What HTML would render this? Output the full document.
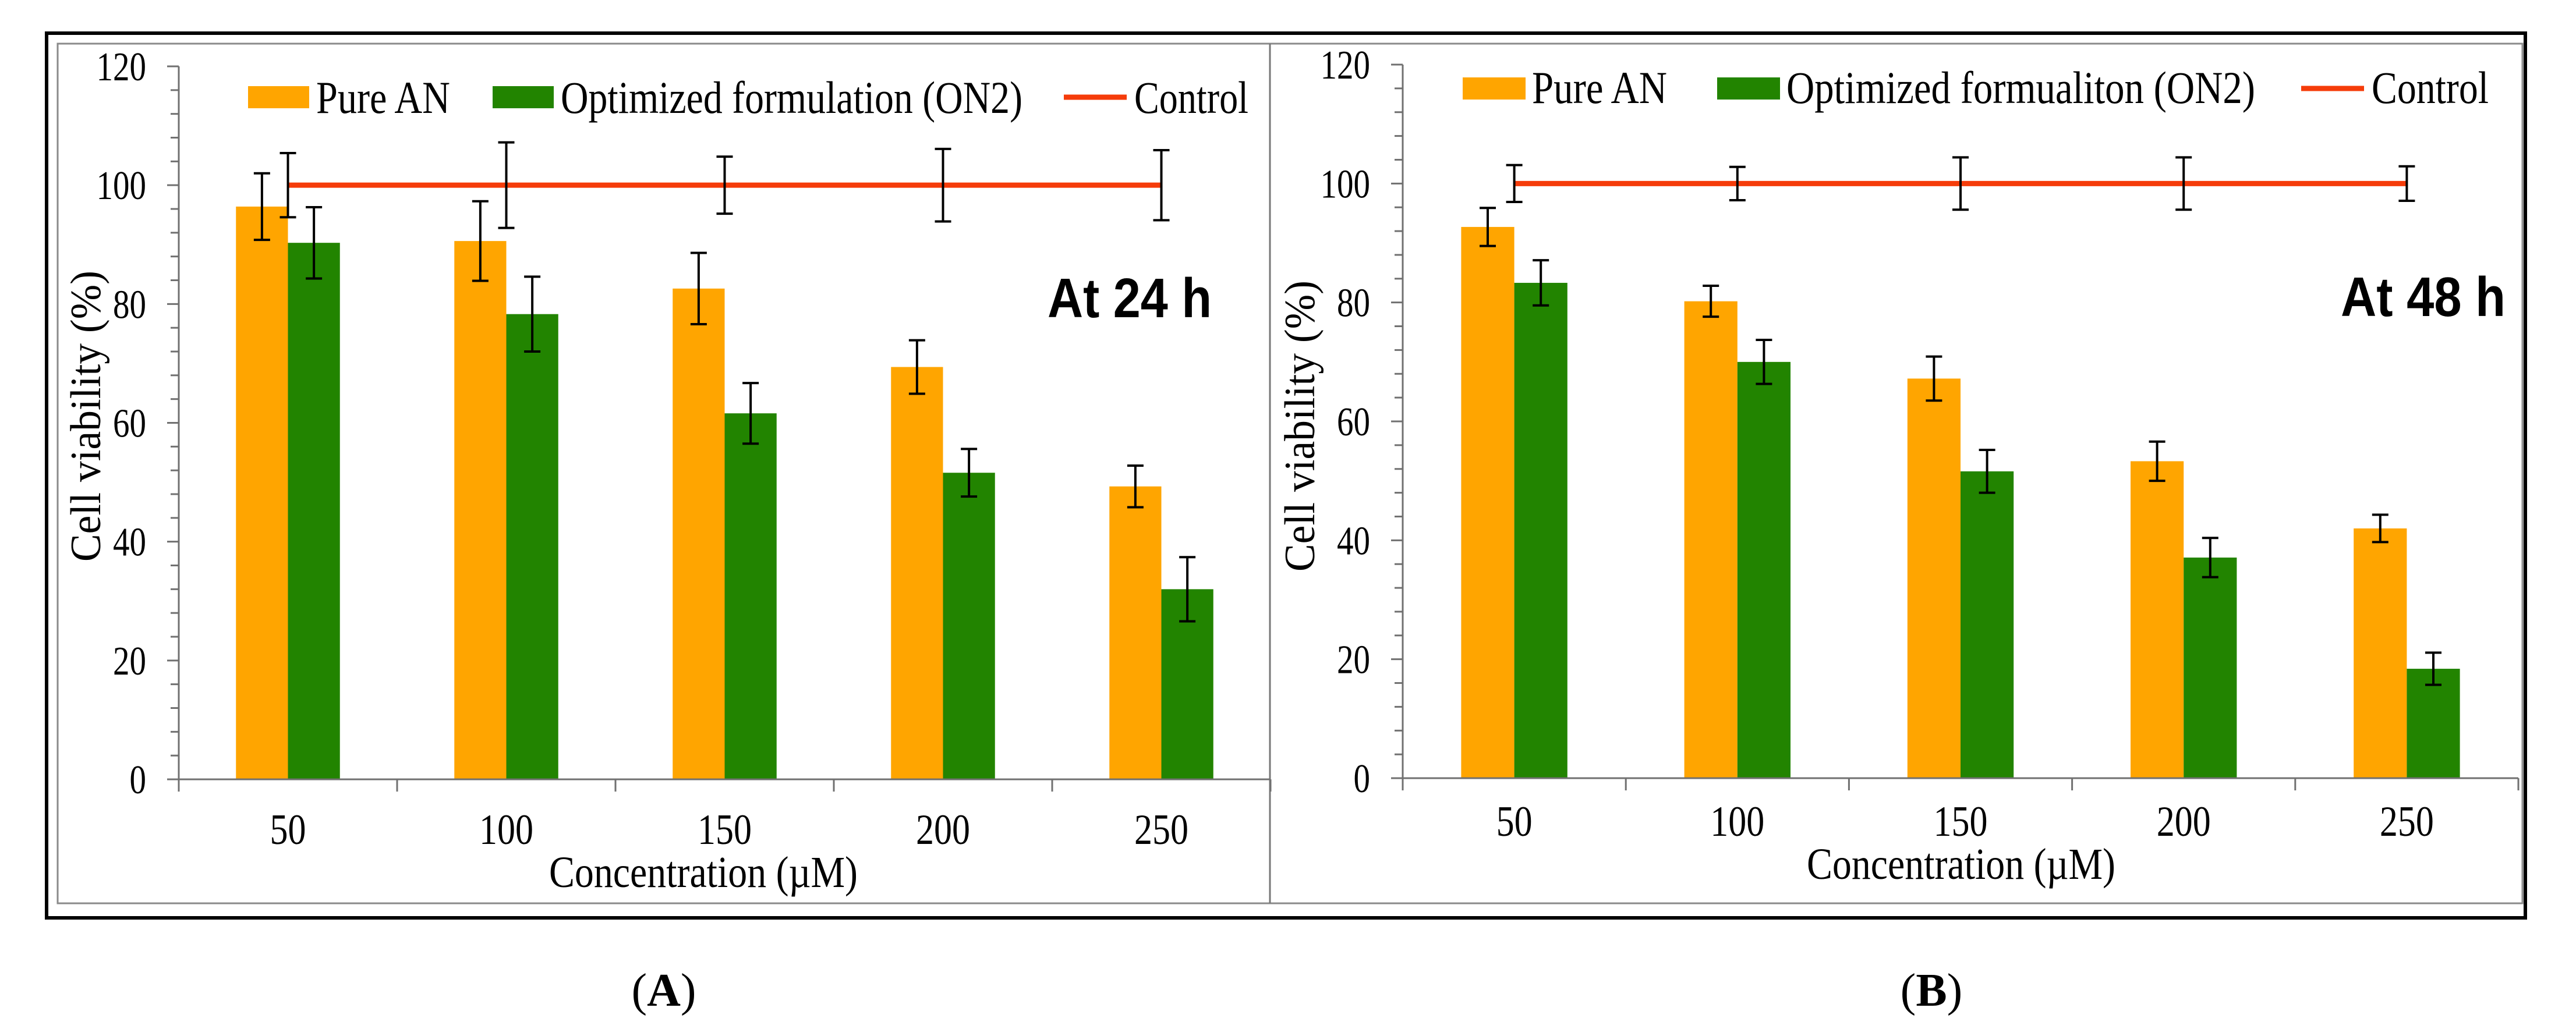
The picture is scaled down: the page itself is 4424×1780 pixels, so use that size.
<!DOCTYPE html>
<html><head><meta charset="utf-8"><style>
html,body{margin:0;padding:0;background:#fff;}
svg{display:block;}
text{font-family:"Liberation Serif",serif;fill:#000;}
</style></head><body>
<svg id="fig" xmlns="http://www.w3.org/2000/svg" width="4424" height="1780" viewBox="0 0 4424 1780">
<rect x="80" y="57" width="4257" height="1520" fill="none" stroke="#000" stroke-width="6"/>
<rect x="99" y="75" width="4233" height="1477" fill="none" stroke="#8a8a8a" stroke-width="3"/>
<line x1="2181" y1="75" x2="2181" y2="1552" stroke="#777" stroke-width="3"/>
<text x="1140" y="1728" font-size="80" text-anchor="middle">(<tspan font-weight="bold">A</tspan>)</text>
<text x="3317" y="1728" font-size="80" text-anchor="middle">(<tspan font-weight="bold">B</tspan>)</text>
</svg>
<script>
const categories = ["50","100","150","200","250"];
const yTicks = [0,20,40,60,80,100,120];
const pureA = [96.4,90.6,82.6,69.4,49.3];
const pureAErr = [5.6,6.7,6.0,4.5,3.5];
const optA = [90.3,78.3,61.6,51.6,32.0];
const optAErr = [6.0,6.3,5.1,4.0,5.4];
const ctrlA = [100,100,100,100,100];
const ctrlAErr = [5.4,7.2,4.8,6.1,5.9];
const pureB = [92.7,80.2,67.2,53.3,42.0];
const pureBErr = [3.2,2.6,3.7,3.3,2.3];
const optB = [83.3,70.0,51.6,37.1,18.4];
const optBErr = [3.8,3.7,3.6,3.3,2.7];
const ctrlB = [100,100,100,100,100];
const ctrlBErr = [3.1,2.8,4.4,4.4,2.9];

const NS = "http://www.w3.org/2000/svg";
const svg = document.getElementById("fig");
function mk(tag, attrs, parent){
  const e = document.createElementNS(NS, tag);
  for (const k in attrs) e.setAttribute(k, attrs[k]);
  (parent||svg).appendChild(e);
  return e;
}

function panel(cfg){
  const g = mk("g", {});
  
  
  const n = categories.length;
  const cw = (cfg.x1 - cfg.x0) / n;
  const yS = v => cfg.y0 - v * (cfg.y0 - cfg.yTop) / 120;
  const xC = i => cfg.x0 + cw * (i + 0.5);
  const bw = cw * 0.238;
  const ya = mk("line", {x1:cfg.x0, y1:cfg.yTop, x2:cfg.x0, y2:cfg.y0+21, stroke:"#707070", "stroke-width":3}, g);
  
  
  for (let v = 0; v <= 120; v += 4) {
    const major = v % 20 === 0;
    const t = mk("line", {x1:cfg.x0 - (major?20:14), y1:yS(v), x2:cfg.x0, y2:yS(v), stroke:"#707070", "stroke-width":3}, g);
    
    
  }
  yTicks.forEach(v => {
    const t = mk("text", {x:cfg.x0 - 56, y:yS(v) + 24, "font-size":70, "text-anchor":"end", textLength:String(v).length*28.5, lengthAdjust:"spacingAndGlyphs"}, g);
    t.textContent = v;
    
    
  });
  categories.forEach((c, i) => {
    const xc = xC(i);
    const b1 = mk("rect", {x:xc - bw, y:yS(cfg.pure[i]), width:bw, height:yS(0)-yS(cfg.pure[i]), fill:"#FFA500"}, g);
    
    
    const b2 = mk("rect", {x:xc, y:yS(cfg.opt[i]), width:bw, height:yS(0)-yS(cfg.opt[i]), fill:"#228400"}, g);
    
    
  });
  const xa = mk("line", {x1:cfg.x0, y1:cfg.y0, x2:cfg.x1, y2:cfg.y0, stroke:"#707070", "stroke-width":3}, g);
  
  
  for (let i = 0; i <= n; i++) {
    const t = mk("line", {x1:cfg.x0 + cw*i, y1:cfg.y0, x2:cfg.x0 + cw*i, y2:cfg.y0+21, stroke:"#707070", "stroke-width":3}, g);
    
    
  }
  categories.forEach((c, i) => {
    const t = mk("text", {x:xC(i), y:cfg.xLabelY, "font-size":74, "text-anchor":"middle", textLength:c.length*31, lengthAdjust:"spacingAndGlyphs"}, g);
    t.textContent = c;
    
    
  });
  const pts = cfg.ctrl.map((v, i) => xC(i) + "," + yS(v)).join(" ");
  const cl = mk("polyline", {points:pts, fill:"none", stroke:"#F53C0A", "stroke-width":9}, g);
  
  
  function err(x, v, e, name){
    const eg = mk("g", {stroke:"#000", "stroke-width":4}, g);
    
    
    mk("line", {x1:x, y1:yS(v+e), x2:x, y2:yS(v-e)}, eg);
    mk("line", {x1:x-14, y1:yS(v+e), x2:x+14, y2:yS(v+e)}, eg);
    mk("line", {x1:x-14, y1:yS(v-e), x2:x+14, y2:yS(v-e)}, eg);
  }
  categories.forEach((c, i) => {
    const xc = xC(i);
    err(xc - bw/2, cfg.pure[i], cfg.pureErr[i], 'error-bar-pure-an-' + c);
    err(xc + bw/2, cfg.opt[i], cfg.optErr[i], 'error-bar-optimized-' + c);
    err(xc, cfg.ctrl[i], cfg.ctrlErr[i], 'error-bar-control-' + c);
  });
  const yt = mk("text", {x:0, y:0, "font-size":74, "text-anchor":"middle", transform:`translate(${cfg.yTitleX},${cfg.yTitleY}) rotate(-90)`, textLength:500, lengthAdjust:"spacingAndGlyphs"}, g);
  yt.textContent = "Cell viability  (%)";
  
  
  const xt = mk("text", {x:cfg.xTitleX, y:cfg.xTitleY, "font-size":76, "text-anchor":"middle", textLength:530, lengthAdjust:"spacingAndGlyphs"}, g);
  xt.textContent = "Concentration (\u00B5M)";
  
  
  const L = cfg.leg;
  const s1 = mk("rect", {x:L.s1, y:L.sy, width:L.s1w, height:38, fill:"#FFA500"}, g);
  
  
  const t1 = mk("text", {x:L.t1, y:L.ty, "font-size":78, textLength:L.t1w, lengthAdjust:"spacingAndGlyphs"}, g);
  t1.textContent = "Pure AN";
  
  
  const s2 = mk("rect", {x:L.s2, y:L.sy, width:L.s1w, height:38, fill:"#228400"}, g);
  
  
  const t2 = mk("text", {x:L.t2, y:L.ty, "font-size":78, textLength:L.t2w, lengthAdjust:"spacingAndGlyphs"}, g);
  t2.textContent = cfg.optLabel;
  
  
  const s3 = mk("line", {x1:L.s3, y1:L.sy+19, x2:L.s3+108, y2:L.sy+19, stroke:"#F53C0A", "stroke-width":9}, g);
  
  
  const t3 = mk("text", {x:L.t3, y:L.ty, "font-size":78, textLength:L.t3w, lengthAdjust:"spacingAndGlyphs"}, g);
  t3.textContent = "Control";
  
  
  const at = mk("text", {x:cfg.atX, y:cfg.atY, "font-size":96, "font-weight":"bold", textLength:cfg.atW, lengthAdjust:"spacingAndGlyphs", style:"font-family:'Liberation Sans',sans-serif"}, g);
  at.textContent = cfg.atText;
  
  
}

panel({name:"panel-a-24h", x0:307, x1:2182, y0:1339, yTop:114,
  pure:pureA, pureErr:pureAErr, opt:optA, optErr:optAErr, ctrl:ctrlA, ctrlErr:ctrlAErr,
  xLabelY:1450, yTitleX:172, yTitleY:715, xTitleX:1208, xTitleY:1524,
  leg:{s1:426, s1w:105, sy:148, t1:543, t1w:230, s2:846, t2:963, t2w:793, s3:1827, t3:1948, t3w:196, ty:194},
  optLabel:"Optimized formulation (ON2)", atX:1799, atY:545, atW:282, atText:"At 24 h"});
panel({name:"panel-b-48h", x0:2409, x1:4325, y0:1337, yTop:111,
  pure:pureB, pureErr:pureBErr, opt:optB, optErr:optBErr, ctrl:ctrlB, ctrlErr:ctrlBErr,
  xLabelY:1436, yTitleX:2257, yTitleY:732, xTitleX:3368, xTitleY:1510,
  leg:{s1:2512, s1w:108, sy:133, t1:2631, t1w:232, s2:2949, t2:3068, t2w:805, s3:3952, t3:4073, t3w:201, ty:177},
  optLabel:"Optimized formualiton (ON2)", atX:4020, atY:543, atW:283, atText:"At 48 h"});
</script>
</body></html>
